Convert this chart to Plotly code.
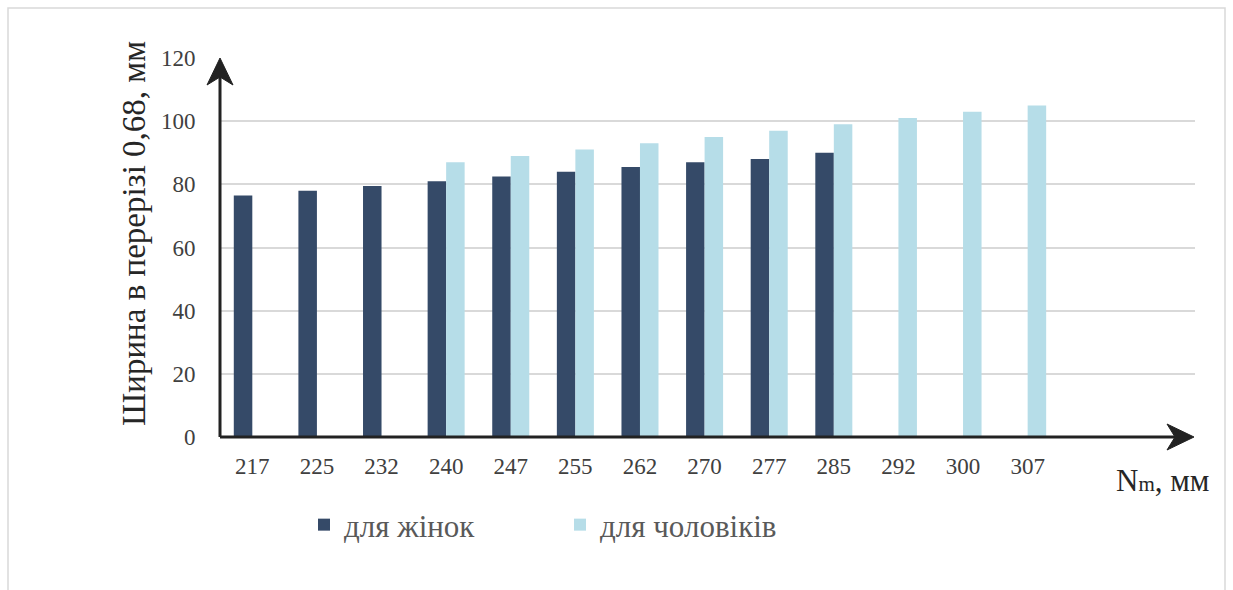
import plotly.graph_objects as go

# Foot length categories, mm
sizes = ["217", "225", "232", "240", "247", "255", "262", "270", "277", "285", "292", "300", "307"]

# Width in the 0.68 cross-section, mm
women_sizes = ["217", "225", "232", "240", "247", "255", "262", "270", "277", "285"]
women_width = [76.5, 78, 79.5, 81, 82.5, 84, 85.5, 87, 88, 90]

men_sizes = ["240", "247", "255", "262", "270", "277", "285", "292", "300", "307"]
men_width = [87, 89, 91, 93, 95, 97, 99, 101, 103, 105]

y_ticks = [0, 20, 40, 60, 80, 100, 120]

SERIF = "Liberation Serif"
DARK = "#354a68"
LIGHT = "#b6dde8"
AXIS = "#222222"

W, H = 1233, 590
L, R, T, B = 220, 38, 58, 153
pw, ph = W - L - R, H - T - B


def px_x(px):
    return (px - L) / pw


def px_y(py):
    return (H - B - py) / ph


fig = go.Figure()
fig.add_trace(go.Bar(x=women_sizes, y=women_width, name="для жінок",
                     marker=dict(color=DARK, line=dict(width=0))))
fig.add_trace(go.Bar(x=men_sizes, y=men_width, name="для чоловіків",
                     marker=dict(color=LIGHT, line=dict(width=0))))

fig.update_layout(
    width=W, height=H,
    margin=dict(l=L, r=R, t=T, b=B),
    paper_bgcolor="white", plot_bgcolor="white",
    barmode="group", bargap=0.427, bargroupgap=0,
    font=dict(family=SERIF, color="#404040"),
    showlegend=True,
    legend=dict(orientation="h", x=px_x(304), xanchor="left",
                y=px_y(525), yanchor="middle",
                font=dict(family=SERIF, size=31, color="#595959"),
                entrywidth=211, entrywidthmode="pixels",
                bgcolor="rgba(0,0,0,0)"),
)

fig.update_xaxes(
    type="category", categoryorder="array", categoryarray=sizes,
    range=[-0.5, 14.59], showgrid=False, showline=False, zeroline=False,
    ticks="outside", ticklen=8, tickcolor="rgba(0,0,0,0)",
    tickfont=dict(family=SERIF, size=23, color="#404040"),
)
fig.update_yaxes(
    range=[0, 120], tickvals=y_ticks, showgrid=True,
    gridcolor="#d9d9d9", gridwidth=1.5, showline=False, zeroline=False,
    ticks="outside", ticklen=19, tickcolor="rgba(0,0,0,0)",
    tickfont=dict(family=SERIF, size=23, color="#404040"),
)

# Axis lines with arrowheads
fig.add_shape(type="line", xref="paper", yref="paper",
              x0=0, x1=px_x(1176), y0=0, y1=0,
              line=dict(color=AXIS, width=3), layer="above")
fig.add_shape(type="line", xref="paper", yref="paper",
              x0=0, x1=0, y0=0, y1=px_y(76),
              line=dict(color=AXIS, width=3), layer="above")
fig.add_shape(type="path", xref="paper", yref="paper",
              xsizemode="pixel", ysizemode="pixel",
              xanchor=px_x(1194), yanchor=0,
              path="M0,0 L-27,13 L-19,0 L-27,-13 Z",
              fillcolor=AXIS, line=dict(color=AXIS, width=1), layer="above")
fig.add_shape(type="path", xref="paper", yref="paper",
              xsizemode="pixel", ysizemode="pixel",
              xanchor=0, yanchor=px_y(58),
              path="M0,0 L-13,-27 L0,-19 L13,-27 Z",
              fillcolor=AXIS, line=dict(color=AXIS, width=1), layer="above")

# Axis titles
fig.add_annotation(xref="paper", yref="paper", x=px_x(134), y=px_y(234),
                   xanchor="center", yanchor="middle", textangle=-90,
                   showarrow=False, text="Ширина в перерізі 0,68, мм",
                   font=dict(family=SERIF, size=33, color="#262626"))
fig.add_annotation(xref="paper", yref="paper", x=px_x(1211), y=px_y(480),
                   xanchor="right", yanchor="middle", showarrow=False,
                   text="N<span style='font-size:21px'>m</span>, мм",
                   font=dict(family=SERIF, size=31, color="#262626"))

# Outer frame
fig.add_shape(type="rect", xref="paper", yref="paper",
              x0=px_x(8), x1=px_x(1225), y0=px_y(600), y1=px_y(8),
              line=dict(color="#d9d9d9", width=1.5), layer="below")

fig.write_html("out.html")
